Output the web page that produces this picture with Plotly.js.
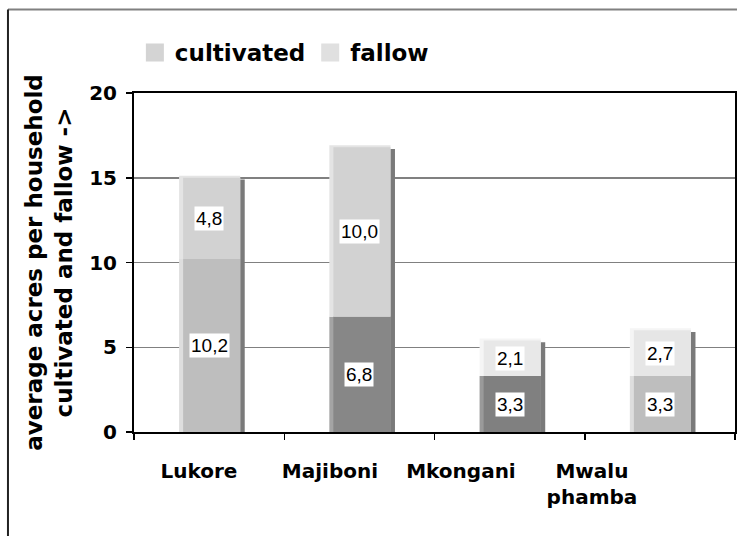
<!DOCTYPE html>
<html>
<head>
<meta charset="utf-8">
<script src="https://cdn.plot.ly/plotly-3.0.1.min.js"></script>
<style>html,body{margin:0;padding:0;background:#fff;}#chart{width:737px;height:536px;}</style>
</head>
<body>
<div id="chart"></div>
<script>
// ---- data ----
const categories = ['Lukore', 'Majiboni', 'Mkongani', 'Mwalu phamba'];
const categoryLabels = ['Lukore', 'Majiboni', 'Mkongani', 'Mwalu<br>phamba'];
const cultivated = [10.2, 6.8, 3.3, 3.3];
const fallow = [4.8, 10.0, 2.1, 2.7];
const seriesNames = ['cultivated', 'fallow'];
const yTickVals = [0, 5, 10, 15, 20];

// ---- styles ----
const cultColor = ['#bebebe', '#878787', '#808080', '#bebebe'];
const cultBevel = ['#dedede', '#a4a4a4', '#9a9a9a', '#dedede'];
const fallColor = ['#d2d2d2', '#d2d2d2', '#e8e8e8', '#e6e6e6'];
const fallBevel = ['#e4e4e4', '#e4e4e4', '#f5f5f5', '#f5f5f5'];

const totals = cultivated.map((c, i) => c + fallow[i]);
const fmt = v => v.toFixed(1).replace('.', ',');

const traces = [
  { // drop shadow
    type: 'bar', x: categories, y: totals.map(t => t - 0.1), base: 0,
    offset: -0.173, width: 0.41, marker: { color: '#7a7a7a' },
    showlegend: false, hoverinfo: 'skip'
  },
  { // bevel cultivated
    type: 'bar', x: categories, y: cultivated, base: 0,
    offset: -0.2, width: 0.407, marker: { color: cultBevel },
    showlegend: false, hoverinfo: 'skip'
  },
  { // bevel fallow
    type: 'bar', x: categories, y: fallow.map(f => f + 0.12), base: cultivated,
    offset: -0.2, width: 0.407, marker: { color: fallBevel },
    showlegend: false, hoverinfo: 'skip'
  },
  {
    type: 'bar', name: seriesNames[0], x: categories, y: cultivated, base: 0,
    offset: -0.173, width: 0.38, marker: { color: cultColor },
    showlegend: false
  },
  {
    type: 'bar', name: seriesNames[1], x: categories, y: fallow, base: cultivated,
    offset: -0.173, width: 0.38, marker: { color: fallColor },
    showlegend: false
  },
  { // category labels carrier on the label axis
    type: 'scatter', mode: 'none', xaxis: 'x2', yaxis: 'y',
    x: categoryLabels, y: cultivated, showlegend: false, hoverinfo: 'skip'
  },
  { // legend entries
    type: 'scatter', mode: 'markers', name: seriesNames[0], x: [null], y: [null],
    marker: { symbol: 'square', size: 16, color: '#d4d4d4', line: { color: '#d4d4d4', width: 2 } }
  },
  {
    type: 'scatter', mode: 'markers', name: seriesNames[1], x: [null], y: [null],
    marker: { symbol: 'square', size: 16, color: '#e0e0e0', line: { color: '#e0e0e0', width: 2 } }
  }
];

const annotations = [];
categories.forEach((cat, i) => {
  annotations.push({ x: cat, y: cultivated[i] / 2, text: fmt(cultivated[i]) });
  annotations.push({ x: cat, y: cultivated[i] + fallow[i] / 2, text: fmt(fallow[i]) });
});
annotations.forEach(a => Object.assign(a, {
  xref: 'x', yref: 'y', showarrow: false, bgcolor: '#ffffff', borderpad: 1,
  font: { family: 'Liberation Sans, Arial, sans-serif', size: 19, color: '#000' }
}));

const layout = {
  width: 737, height: 536,
  margin: { l: 134, r: 2, t: 93, b: 104 },
  paper_bgcolor: '#fff', plot_bgcolor: '#fff',
  barmode: 'overlay',
  separators: ', ',
  showlegend: true,
  legend: {
    orientation: 'h', xref: 'container', yref: 'container',
    x: 0.183, y: 0.902, xanchor: 'left', yanchor: 'middle',
    font: { family: 'DejaVu Sans', size: 23, color: '#000', weight: 'bold' },
    bgcolor: 'rgba(0,0,0,0)', tracegroupgap: 0, traceorder: 'normal'
  },
  xaxis: {
    type: 'category', categoryorder: 'array', categoryarray: categories,
    range: [-0.5, 3.5], showticklabels: false,
    ticks: 'outside', tickson: 'boundaries', ticklen: 6, tickwidth: 1.5, tickcolor: '#000',
    showline: true, linecolor: '#000', linewidth: 2, mirror: true,
    showgrid: false, zeroline: false, fixedrange: true
  },
  xaxis2: {
    overlaying: 'x', anchor: 'y', side: 'bottom', type: 'category',
    categoryorder: 'array', categoryarray: categoryLabels,
    range: [-0.496, 4.092],
    ticks: '', showline: false, showgrid: false, zeroline: false,
    ticklabelstandoff: 25,
    tickfont: { family: 'DejaVu Sans', size: 20, color: '#000', weight: 'bold' }
  },
  yaxis: {
    range: [0, 20], tickmode: 'array', tickvals: yTickVals,
    ticks: 'outside', ticklen: 6, tickwidth: 1.5, tickcolor: '#000',
    ticklabelstandoff: 5,
    tickfont: { family: 'DejaVu Sans', size: 20, color: '#000', weight: 'bold' },
    showline: true, linecolor: '#000', linewidth: 2, mirror: true,
    showgrid: true, gridcolor: '#808080', gridwidth: 1.5, zeroline: false,
    title: {
      text: 'average acres per household<br>cultivated and fallow ->',
      font: { family: 'DejaVu Sans', size: 23, color: '#000', weight: 'bold' },
      standoff: 10
    }
  },
  annotations: annotations,
  shapes: [
    { type: 'line', xref: 'paper', yref: 'paper', x0: -0.2097, x1: 1.1, y0: 1.2463, y1: 1.2463,
      line: { color: '#808080', width: 2 } },
    { type: 'line', xref: 'paper', yref: 'paper', x0: -0.2097, x1: -0.2097, y0: 1.2463, y1: -0.4,
      line: { color: '#222222', width: 2 } }
  ]
};

Plotly.newPlot('chart', traces, layout, { displayModeBar: false, staticPlot: true });
</script>
</body>
</html>
